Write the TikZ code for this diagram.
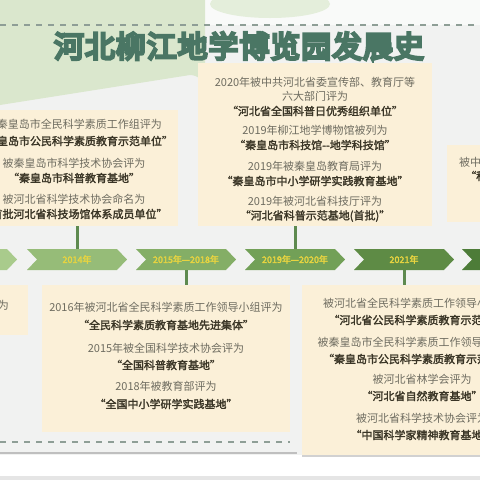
\documentclass[tikz,border=0pt]{standalone}
\usepackage{fontspec}
\newfontfamily\cjk{Noto Sans CJK SC}
\newfontfamily\cjkb{Noto Sans CJK SC}[FakeBold=2]
\newfontfamily\cjkc{Noto Sans CJK SC}[FakeBold=3]
\newfontfamily\cjkt{Noto Sans CJK SC}[FakeBold=9, LetterSpace=3]
\definecolor{bgc}{HTML}{F1F2F1}
\definecolor{greentop}{HTML}{DAE7CD}
\definecolor{greenlite}{HTML}{E4EEDB}
\definecolor{cream}{HTML}{FBF0D8}
\definecolor{titlec}{HTML}{4A7664}
\definecolor{txtc}{HTML}{6E6C60}
\definecolor{boldc}{HTML}{3A3526}
\definecolor{connc}{HTML}{5E8A4F}
\definecolor{yel}{HTML}{E8D440}
\definecolor{dashc}{HTML}{8E9E96}
\definecolor{chA}{HTML}{A9CB8C}
\definecolor{chB}{HTML}{96BC78}
\definecolor{chC}{HTML}{84AE66}
\definecolor{chD}{HTML}{72A057}
\definecolor{chE}{HTML}{5E8B45}
\definecolor{chF}{HTML}{4D7C38}
\newcommand{\chevshape}[2]{\fill[#2] (#1,249) -- ++(90,0) -- ++(10,10.5) -- ++(-10,10.5) -- ++(-90,0) -- ++(10,-10.5) -- cycle;}
\tikzset{
  box/.style={fill=cream, draw=none, inner sep=0},
  tn/.style={font=\cjk\fontsize{11}{13}\selectfont, text=txtc, inner sep=0},
  tb/.style={font=\cjkb\fontsize{11}{13}\selectfont, text=boldc, inner sep=0},
  chlab/.style={font=\cjkc\fontsize{9}{10}\selectfont, text=yel, inner sep=0, minimum height=21, minimum width=80},
  conn/.style={draw=connc, line width=3pt},
}
\begin{document}
\begin{tikzpicture}[x=1pt,y=-1pt]
\useasboundingbox (0,0) rectangle (480,480);
\clip (0,0) rectangle (480,480);
% background
\fill[bgc] (0,0) rectangle (480,480);
\fill[white!60!bgc] (0,0) rectangle (480,25);
\fill[greentop] (0,0) -- (205,0) -- (205,90) arc[start angle=0,end angle=-90,radius=15] -- (0,105) -- cycle;
\fill[greenlite] (270,4) ellipse[x radius=60, y radius=14];
\fill[white] (0,455) rectangle (480,476);
\fill[black!10] (0,476) rectangle (480,480);
\draw[black!25, line width=1.5pt] (0,453) -- (297,453);
% top dashed line and title
\draw[dashc, line width=1.2pt, dash pattern=on 6pt off 6pt] (0,25) -- (480,25);
\node[font=\cjkt\fontsize{30}{32}\selectfont, text=titlec, inner sep=0] (title) at (239,46) {河北柳江地学博览园发展史};
% boxes
\node[box, minimum width=198, minimum height=116] (bL) at (79,168) {};
\node[box, minimum width=234, minimum height=163] (bM) at (315,144.5) {};
\node[box, minimum width=53, minimum height=77] (bR) at (473.5,183.5) {};
\node[box, minimum width=48, minimum height=50] (bBL) at (4,310) {};
\node[box, minimum width=248, minimum height=147] (bB1) at (166,358.5) {};
\node[box, minimum width=198, minimum height=170] (bB2) at (401,370) {};
\draw[black!18, line width=1.5pt] (302,456) -- (480,456);
% bottom-left dashed line
\draw[dashc, line width=1.2pt, dash pattern=on 6pt off 6pt] (0,442) -- (290,442);
% chevrons
\chevshape{-83}{chA}
\chevshape{27}{chB}
\chevshape{136}{chC}
\chevshape{245}{chD}
\chevshape{354}{chE}
\chevshape{462}{chF}
\node[chlab] (c0) at (-33,259.5) {};
\node[chlab] (c1) at (77,259.5) {2014年};
\node[chlab] (c2) at (186,259.5) {2015年—2018年};
\node[chlab] (c3) at (295,259.5) {2019年—2020年};
\node[chlab] (c4) at (404,259.5) {2021年};
\node[chlab] (c5) at (512,259.5) {};
% connectors
\draw[conn] (c1.north) -- (c1.north |- bL.south);
\draw[conn] (c3.north) -- (c3.north |- bM.south);
\draw[conn] (c2.south) -- (c2.south |- bB1.north);
\draw[conn] (c4.south) -- (c4.south |- bB2.north);
% texts box L
\node[tn] (l1) at (74,124) {被秦皇岛市全民科学素质工作组评为};
\node[tb] (l2) at (74,141) {“秦皇岛市公民科学素质教育示范单位”};
\node[tn] (l3) at (74,163) {被秦皇岛市科学技术协会评为};
\node[tb] (l4) at (74,178) {“秦皇岛市科普教育基地”};
\node[tn] (l5) at (74,199) {被河北省科学技术协会命名为};
\node[tb] (l6) at (74,214) {“首批河北省科技场馆体系成员单位”};
% texts box M
\node[tn] (m1) at (315,82) {2020年被中共河北省委宣传部、教育厅等};
\node[tn] (m2) at (315,96) {六大部门评为};
\node[tb] (m3) at (315,111) {“河北省全国科普日优秀组织单位”};
\node[tn] (m4) at (315,130) {2019年柳江地学博物馆被列为};
\node[tb] (m5) at (315,145) {“秦皇岛市科技馆--地学科技馆”};
\node[tn] (m6) at (315,166) {2019年被秦皇岛教育局评为};
\node[tb] (m7) at (315,181) {“秦皇岛市中小学研学实践教育基地”};
\node[tn] (m8) at (315,201) {2019年被河北省科技厅评为};
\node[tb] (m9) at (315,216) {“河北省科普示范基地(首批)”};
% texts box R
\node[tn, anchor=west] (r1) at (459,162) {被中国科学技术协会评为};
\node[tb, anchor=west] (r2) at (465,176) {“科普教育基地”};
% texts small bottom-left
\node[tn, anchor=east] (bl1) at (9,305) {评为};
% texts box B1
\node[tn] (p1) at (166,307) {2016年被河北省全民科学素质工作领导小组评为};
\node[tb] (p2) at (166,325) {“全民科学素质教育基地先进集体”};
\node[tn] (p3) at (166,348) {2015年被全国科学技术协会评为};
\node[tb] (p4) at (166,365) {“全国科普教育基地”};
\node[tn] (p5) at (166,386) {2018年被教育部评为};
\node[tb] (p6) at (166,404) {“全国中小学研学实践基地”};
% texts box B2
\node[tn] (q1) at (422,303) {被河北省全民科学素质工作领导小组评为};
\node[tb] (q2) at (422,320) {“河北省公民科学素质教育示范基地”};
\node[tn] (q3) at (422,342) {被秦皇岛市全民科学素质工作领导小组评为};
\node[tb] (q4) at (422,359) {“秦皇岛市公民科学素质教育示范基地”};
\node[tn] (q5) at (422,379) {被河北省林学会评为};
\node[tb] (q6) at (422,396) {“河北省自然教育基地”};
\node[tn] (q7) at (422,418) {被河北省科学技术协会评为};
\node[tb] (q8) at (422,435) {“中国科学家精神教育基地”};
\end{tikzpicture}
\end{document}
